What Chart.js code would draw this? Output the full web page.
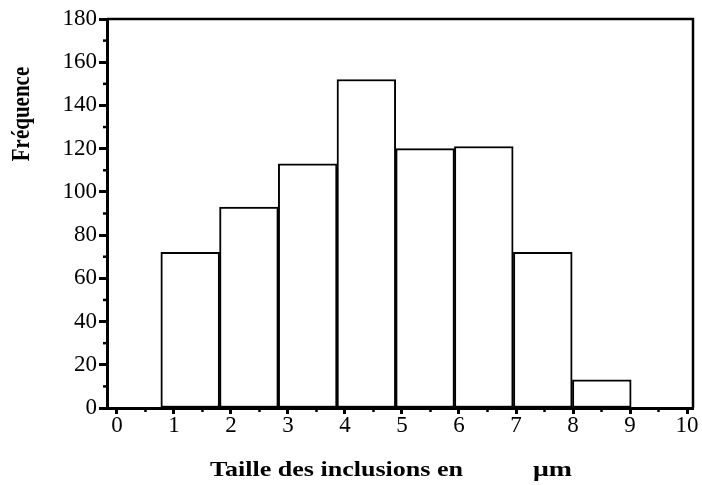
<!DOCTYPE html>
<html><head><meta charset="utf-8">
<script src="https://cdn.jsdelivr.net/npm/chart.js@4/dist/chart.umd.min.js"></script>
<style>html,body{margin:0;padding:0;background:#fff}#c{display:block}</style>
</head><body>
<canvas id="c" width="702" height="485"></canvas>
<script>
// ---- data ----
const binEdges = [0.77, 1.80, 2.83, 3.86, 4.89, 5.92, 6.95, 7.99, 9.02];
const frequencies = [72, 93, 113, 152, 120, 121, 72, 13];
const xTickLabels = ['0','1','2','3','4','5','6','7','8','9','10'];
const yTickLabels = ['0','20','40','60','80','100','120','140','160','180'];
const xMinorTicks = [0.5,1.5,2.5,3.5,4.5,5.5,6.5,7.5,8.5,9.5];
const yMinorTicks = [10,30,50,70,90,110,130,150,170];
const xTitle = 'Taille des inclusions en';
const xUnit = 'μm';
const yTitle = 'Fréquence';

const SERIF = '"Liberation Serif", "Times New Roman", serif';

function drawStretched(ctx, text, left, cy, width) {
  const w = ctx.measureText(text).width;
  ctx.save();
  ctx.translate(left, cy);
  ctx.scale(width / w, 1);
  ctx.textAlign = 'left';
  ctx.textBaseline = 'middle';
  ctx.fillText(text, 0, 0);
  ctx.restore();
}

const decor = {
  id: 'decor',
  afterDraw(chart) {
    const {ctx, chartArea: a, scales: {x, y}} = chart;
    ctx.save();
    ctx.strokeStyle = '#000';
    ctx.lineWidth = 2.5;
    ctx.beginPath();
    ctx.moveTo(a.left, a.top);
    ctx.lineTo(a.right, a.top);
    ctx.lineTo(a.right, a.bottom);
    ctx.stroke();
    xMinorTicks.forEach(v => {
      const px = x.getPixelForValue(v);
      ctx.beginPath(); ctx.moveTo(px, a.bottom); ctx.lineTo(px, a.bottom + 4); ctx.stroke();
    });
    yMinorTicks.forEach(v => {
      const py = y.getPixelForValue(v);
      ctx.beginPath(); ctx.moveTo(a.left - 4, py); ctx.lineTo(a.left, py); ctx.stroke();
    });
    ctx.fillStyle = '#000';
    ctx.font = 'bold 22px ' + SERIF;
    drawStretched(ctx, xTitle, 210, 470, 253);
    drawStretched(ctx, xUnit, 533, 470, 39);
    ctx.font = 'bold 21px ' + SERIF;
    ctx.translate(23, 114);
    ctx.rotate(-Math.PI / 2);
    ctx.scale(1, 1.15);
    ctx.textAlign = 'center';
    ctx.textBaseline = 'middle';
    ctx.fillText(yTitle, 0, 0);
    ctx.restore();
  }
};

const barData = frequencies.map((f, i) => ({x: (binEdges[i] + binEdges[i + 1]) / 2, y: f}));

const chart = new Chart(document.getElementById('c'), {
  type: 'bar',
  data: {
    datasets: [{
      data: barData,
      backgroundColor: '#ffffff',
      borderColor: '#000000',
      borderWidth: 2,
      borderSkipped: false,
      barPercentage: 1,
      categoryPercentage: 1
    }]
  },
  options: {
    responsive: false,
    animation: false,
    devicePixelRatio: 1,
    layout: {padding: {top: 19, right: 9, left: 0, bottom: 0}},
    plugins: {legend: {display: false}, tooltip: {enabled: false}, title: {display: false}},
    scales: {
      x: {
        type: 'linear',
        offset: false,
        min: -0.175,
        max: 10.105,
        afterBuildTicks: s => { s.ticks = xTickLabels.map(l => ({value: Number(l)})); },
        afterFit: s => { s.height = 77; },
        ticks: {
          autoSkip: false, maxRotation: 0, padding: -2,
          color: '#000', font: {family: SERIF, size: 23},
          callback: (v, i) => xTickLabels[i]
        },
        grid: {display: true, offset: false, drawOnChartArea: false, drawTicks: true, tickLength: 6, tickWidth: 3, tickColor: '#000'},
        border: {display: true, color: '#000', width: 3}
      },
      y: {
        type: 'linear',
        min: 0,
        max: 180,
        afterBuildTicks: s => { s.ticks = yTickLabels.map(l => ({value: Number(l)})); },
        afterFit: s => { s.width = 107; },
        ticks: {
          autoSkip: false, padding: 2,
          color: '#000', font: {family: SERIF, size: 23},
          callback: (v, i) => yTickLabels[i]
        },
        grid: {display: true, drawOnChartArea: false, drawTicks: true, tickLength: 8, tickWidth: 3, tickColor: '#000'},
        border: {display: true, color: '#000', width: 3}
      }
    }
  },
  plugins: [decor]
});

// bar thickness = one bin width, measured through the x scale
const xs = chart.scales.x;
const n = frequencies.length;
chart.data.datasets[0].barThickness =
  (xs.getPixelForValue(binEdges[n]) - xs.getPixelForValue(binEdges[0])) / n;
chart.update('none');
</script>
</body></html>
